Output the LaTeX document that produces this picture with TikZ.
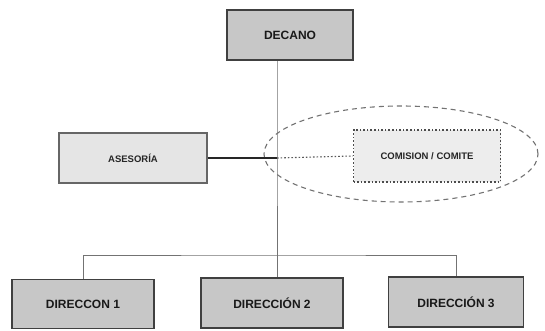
\documentclass[tikz,border=0pt]{standalone}
\usepackage{fontspec}
\setmainfont{Liberation Sans}
\usetikzlibrary{shapes.geometric}
\begin{document}
\begin{tikzpicture}[x=1pt,y=1pt,
  darkbox/.style={draw=black!75, line width=1.6pt, fill=black!22, inner sep=0pt,
    font=\bfseries\fontsize{12}{14}\selectfont, text=black!90},
  lightbox/.style={draw=black!60, line width=1.1pt, fill=black!10, inner sep=0pt,
    font=\bfseries\fontsize{9.5}{11}\selectfont, text=black!85},
  dotbox/.style={draw=black!70, line width=1.2pt, dash pattern=on 1.6pt off 2pt, fill=black!7, inner sep=0pt,
    font=\bfseries\fontsize{9.5}{11}\selectfont, text=black!85},
  conn/.style={draw=black!55, line width=1pt},
  grp/.style={draw=black!55, line width=1.1pt, dash pattern=on 5pt off 4pt}]
\useasboundingbox (0,0) rectangle (545,330);
\fill[white] (0,0) rectangle (545,330);
% group ellipse
\node[grp, ellipse, minimum width=274, minimum height=96, inner sep=0pt] (grupo) at (401,176) {};
% boxes
\node[darkbox, minimum width=126, minimum height=50] (decano) at (290,295) {DECANO};
\node[lightbox, minimum width=148, minimum height=50] (asesoria) at (133,172) {ASESORÍA};
\node[dotbox, minimum width=147, minimum height=52] (comision) at (427,174) {COMISION / COMITE};
\node[darkbox, minimum width=142, minimum height=49] (d1) at (83,26) {DIRECCON 1};
\node[darkbox, minimum width=142, minimum height=50] (d2) at (272,27) {DIRECCIÓN 2};
\node[darkbox, minimum width=135, minimum height=50] (d3) at (456,28) {DIRECCIÓN 3};
% junctions
\coordinate (j) at (277,172);
\coordinate (bus) at (277,75);
% connectors
\draw[conn] (decano.south -| j) -- (j) -- (bus);
\draw[conn] (d1.north) |- (bus) -| (d3.north);
\draw[conn] (bus) -- (d2.north -| bus);
\draw[draw=black!85, line width=1.3pt] (asesoria.east) -- (j);
\draw[draw=black!65, line width=1.1pt, dash pattern=on 1.6pt off 2pt] (j) -- (comision.west);
\end{tikzpicture}
\end{document}
